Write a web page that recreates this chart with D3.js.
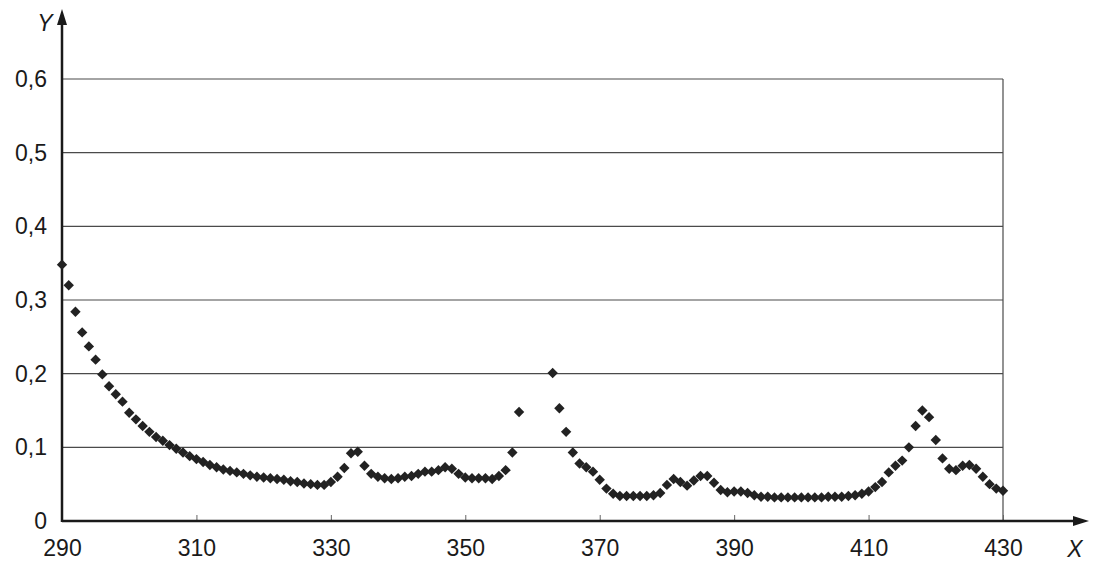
<!DOCTYPE html>
<html>
<head>
<meta charset="utf-8">
<script src="https://cdn.jsdelivr.net/npm/d3@7"></script>
<style>
  body { margin: 0; background: #fff; }
  svg { display: block; }
  text { font-family: "Liberation Sans", Arial, sans-serif; fill: #1a1a1a; }
</style>
</head>
<body>
<svg id="chart" width="1102" height="580"></svg>
<script>
// x positions of the measured points (359-362 have no point)
var xs = [290, 291, 292, 293, 294, 295, 296, 297, 298, 299,
          300, 301, 302, 303, 304, 305, 306, 307, 308, 309,
          310, 311, 312, 313, 314, 315, 316, 317, 318, 319,
          320, 321, 322, 323, 324, 325, 326, 327, 328, 329,
          330, 331, 332, 333, 334, 335, 336, 337, 338, 339,
          340, 341, 342, 343, 344, 345, 346, 347, 348, 349,
          350, 351, 352, 353, 354, 355, 356, 357, 358,
          363, 364, 365, 366, 367, 368, 369,
          370, 371, 372, 373, 374, 375, 376, 377, 378, 379,
          380, 381, 382, 383, 384, 385, 386, 387, 388, 389,
          390, 391, 392, 393, 394, 395, 396, 397, 398, 399,
          400, 401, 402, 403, 404, 405, 406, 407, 408, 409,
          410, 411, 412, 413, 414, 415, 416, 417, 418, 419,
          420, 421, 422, 423, 424, 425, 426, 427, 428, 429,
          430];

var ys = [0.348, 0.320, 0.284, 0.256, 0.237, 0.219, 0.199, 0.183, 0.172, 0.162,
          0.147, 0.138, 0.129, 0.121, 0.114, 0.109, 0.103, 0.098, 0.093, 0.088,
          0.084, 0.080, 0.076, 0.073, 0.070, 0.068, 0.066, 0.064, 0.062, 0.060,
          0.059, 0.058, 0.057, 0.056, 0.054, 0.053, 0.051, 0.050, 0.049, 0.049,
          0.053, 0.060, 0.072, 0.092, 0.094, 0.075, 0.064, 0.060, 0.058, 0.057,
          0.058, 0.060, 0.061, 0.064, 0.067, 0.067, 0.069, 0.073, 0.071, 0.064,
          0.059, 0.058, 0.058, 0.058, 0.057, 0.061, 0.069, 0.093, 0.148,
          0.201, 0.153, 0.121, 0.093, 0.078, 0.073, 0.067,
          0.056, 0.044, 0.037, 0.034, 0.034, 0.034, 0.034, 0.034, 0.035, 0.038,
          0.049, 0.057, 0.053, 0.048, 0.055, 0.061, 0.061, 0.052, 0.042, 0.039,
          0.040, 0.040, 0.038, 0.035, 0.033, 0.033, 0.032, 0.032, 0.032, 0.032,
          0.032, 0.032, 0.032, 0.032, 0.033, 0.033, 0.033, 0.034, 0.035, 0.037,
          0.040, 0.046, 0.053, 0.066, 0.075, 0.082, 0.100, 0.129, 0.150, 0.141,
          0.110, 0.085, 0.071, 0.069, 0.075, 0.076, 0.071, 0.060, 0.050, 0.044,
          0.041];

var xTicks = [290, 310, 330, 350, 370, 390, 410, 430];
var yTicks = [0, 0.1, 0.2, 0.3, 0.4, 0.5, 0.6];

var plotLeft = 62, plotRight = 1003, plotTop = 79, plotBottom = 521;

var svg = d3.select("#chart");

var x = d3.scaleLinear().domain([290, 430]).range([plotLeft, plotRight]);
var y = d3.scaleLinear().domain([0, 0.6]).range([plotBottom, plotTop]);

// gridlines
svg.append("g")
  .selectAll("line")
  .data(yTicks.slice(1))
  .enter()
  .append("line")
    .attr("x1", plotLeft).attr("x2", plotRight)
    .attr("y1", function(d) { return y(d); })
    .attr("y2", function(d) { return y(d); })
    .attr("stroke", "#4a4a4a")
    .attr("stroke-width", 1.2);

// right border
svg.append("line")
  .attr("x1", plotRight).attr("x2", plotRight)
  .attr("y1", plotTop).attr("y2", plotBottom)
  .attr("stroke", "#4a4a4a")
  .attr("stroke-width", 1.2);

// x axis: small ticks pointing up, labels below
var xAxis = svg.append("g")
  .attr("transform", "translate(0," + plotBottom + ")")
  .call(d3.axisBottom(x).tickValues(xTicks).tickSize(-6).tickPadding(19));
xAxis.select(".domain").remove();
xAxis.selectAll("line").attr("stroke", "#666").attr("stroke-width", 1);
xAxis.selectAll("text")
  .style("font-size", "23px")
  .style("font-family", "'Liberation Sans', Arial, sans-serif")
  .attr("fill", "#111");

// y axis labels with decimal comma
var yAxis = svg.append("g")
  .attr("transform", "translate(" + plotLeft + ",0)")
  .call(d3.axisLeft(y).tickValues(yTicks).tickSize(0).tickPadding(15)
    .tickFormat(function(d) { return d === 0 ? "0" : d3.format(".1f")(d).replace(".", ","); }));
yAxis.select(".domain").remove();
yAxis.selectAll("text")
  .style("font-size", "23px")
  .style("font-family", "'Liberation Sans', Arial, sans-serif")
  .attr("fill", "#111");

// main axis lines with arrows
svg.append("line")
  .attr("x1", plotLeft).attr("x2", 1078)
  .attr("y1", plotBottom).attr("y2", plotBottom)
  .attr("stroke", "#1a1a1a").attr("stroke-width", 2.5);
svg.append("path")
  .attr("d", "M1089," + plotBottom + "L1073," + (plotBottom - 5) + "L1073," + (plotBottom + 5) + "Z")
  .attr("fill", "#1a1a1a");

svg.append("line")
  .attr("x1", plotLeft).attr("x2", plotLeft)
  .attr("y1", plotBottom + 1).attr("y2", 22)
  .attr("stroke", "#1a1a1a").attr("stroke-width", 2.5);
svg.append("path")
  .attr("d", "M" + plotLeft + ",9L" + (plotLeft - 5) + ",25L" + (plotLeft + 5) + ",25Z")
  .attr("fill", "#1a1a1a");

// axis names
svg.append("text")
  .attr("x", 1075).attr("y", 557)
  .attr("text-anchor", "middle")
  .style("font-size", "23px").style("font-style", "italic")
  .attr("fill", "#111")
  .text("X");
svg.append("text")
  .attr("x", 45).attr("y", 31)
  .attr("text-anchor", "middle")
  .style("font-size", "23px").style("font-style", "italic")
  .attr("fill", "#111")
  .text("Y");

// points
var diamond = d3.symbol().type(d3.symbolSquare).size(54);
svg.append("g")
  .selectAll("path")
  .data(xs)
  .enter()
  .append("path")
    .attr("d", diamond)
    .attr("transform", function(d, i) {
      return "translate(" + x(d) + "," + y(ys[i]) + ") rotate(45)";
    })
    .attr("fill", "#222");
</script>
</body>
</html>
